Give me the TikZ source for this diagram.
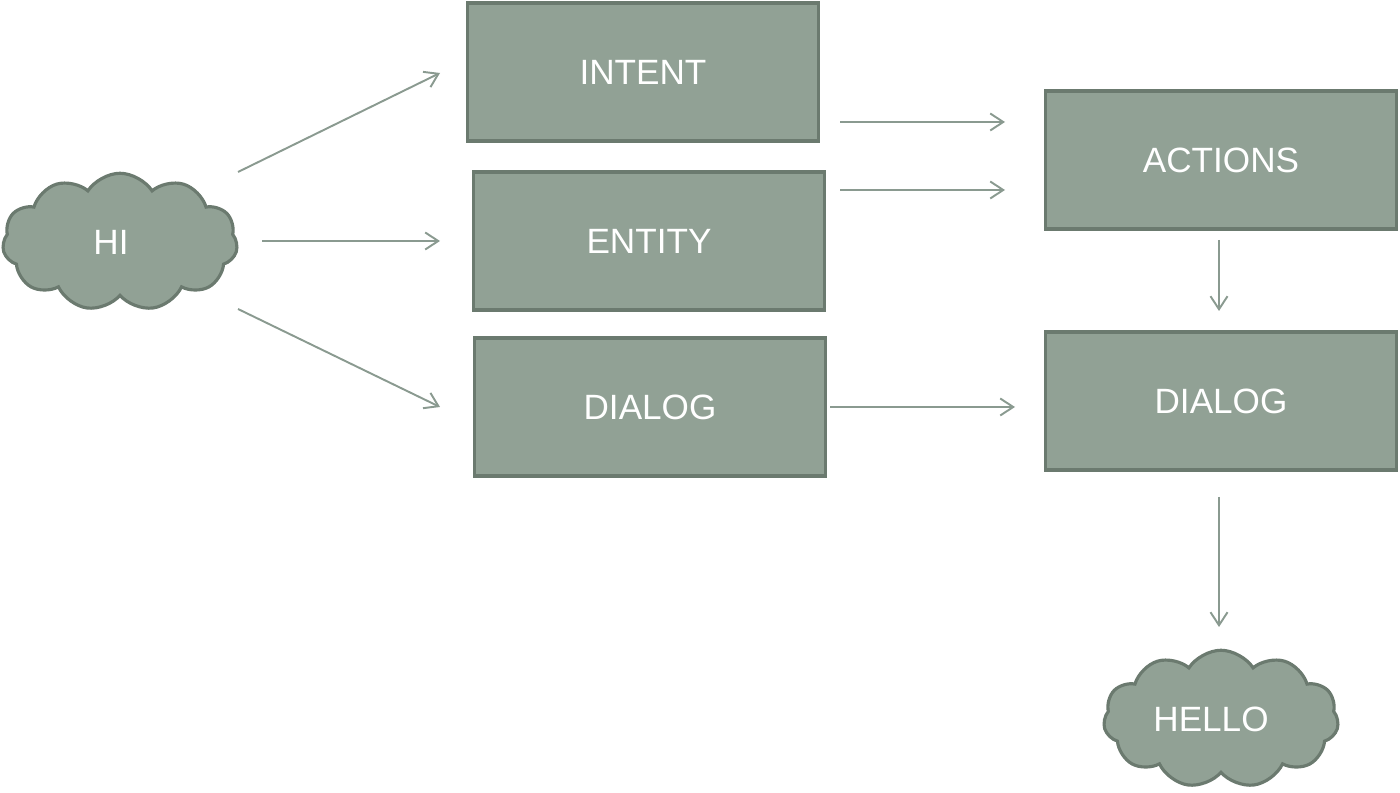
\documentclass[tikz,border=0pt]{standalone}
\usepackage{fontspec}
\setmainfont{Liberation Sans}
\usetikzlibrary{shapes.symbols,arrows.meta}
\definecolor{boxfill}{HTML}{91A195}
\definecolor{boxline}{HTML}{6B7A6F}
\definecolor{arrowcol}{HTML}{8A9A90}
\begin{document}
\begin{tikzpicture}[x=0.02cm,y=-0.02cm,
  box/.style={draw=boxline,fill=boxfill,line width=1.8pt,minimum width=7.02cm,minimum height=2.76cm,inner sep=0pt,text=white,font=\fontsize{20}{24}\selectfont},
  puffy/.style={cloud,cloud puffs=11,cloud puff arc=115,cloud ignores aspect,draw=boxline,fill=boxfill,line width=1.8pt,minimum width=4.7cm,minimum height=2.75cm,inner sep=0pt,text=white,font=\fontsize{20}{24}\selectfont},
  conn/.style={draw=arrowcol,line width=1.1pt,-{Straight Barb[length=0.26cm,width=0.34cm,line width=1.1pt]}}]
\useasboundingbox (0,0) rectangle (1400,793);
\node[puffy] (hi) at (120,242) {HI\kern0.36cm};
\node[box] (intent) at (643,72) {INTENT};
\node[box] (entity) at (649,241) {ENTITY};
\node[box] (dialogA) at (650,407) {DIALOG};
\node[box] (actions) at (1221,160) {ACTIONS};
\node[box] (dialogB) at (1221,401) {DIALOG};
\node[puffy] (hello) at (1221,719) {HELLO\kern0.4cm};
% connector end points
\coordinate (a1s) at (238,172); \coordinate (a1e) at (440,73);
\coordinate (a2s) at (262,241); \coordinate (a2e) at (440,241);
\coordinate (a3s) at (238,309); \coordinate (a3e) at (440,407);
\coordinate (a4s) at (840,122); \coordinate (a4e) at (1005,122);
\coordinate (a5s) at (840,190); \coordinate (a5e) at (1005,190);
\coordinate (a6s) at (830,407); \coordinate (a6e) at (1015,407);
\coordinate (a7s) at (1219,240); \coordinate (a7e) at (1219,311);
\coordinate (a8s) at (1219,497); \coordinate (a8e) at (1219,627);
\draw[conn] (a1s) -- (a1e);
\draw[conn] (a2s) -- (a2e);
\draw[conn] (a3s) -- (a3e);
\draw[conn] (a4s) -- (a4e);
\draw[conn] (a5s) -- (a5e);
\draw[conn] (a6s) -- (a6e);
\draw[conn] (a7s) -- (a7e);
\draw[conn] (a8s) -- (a8e);
\end{tikzpicture}
\end{document}
